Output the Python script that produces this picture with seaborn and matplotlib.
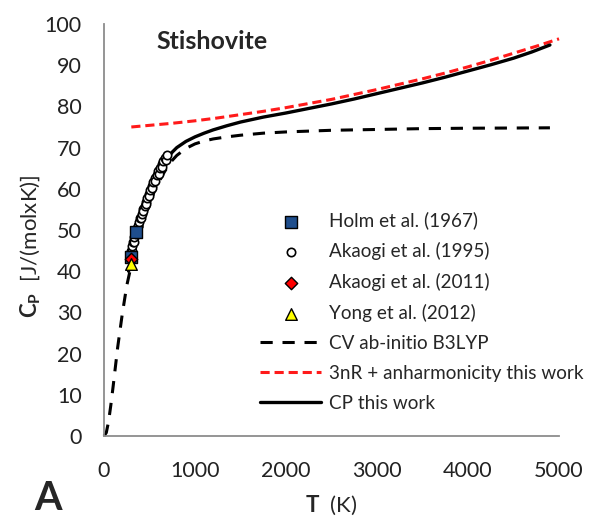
import numpy as np
import pandas as pd
import matplotlib
matplotlib.use("Agg")
import matplotlib.pyplot as plt
from matplotlib.ticker import MultipleLocator
import seaborn as sns

# ---- data -------------------------------------------------------------
# CV ab-initio B3LYP
cv_T = [0, 25, 50, 75, 100, 150, 200, 250, 300, 350, 400, 450, 500, 550, 600,
        650, 700, 750, 800, 900, 1000, 1100, 1200, 1350, 1500, 1750, 2000,
        2500, 3000, 3500, 4000, 4500, 4900]
cv_val = [0.0, 0.8, 3.5, 7.5, 12.0, 21.5, 29.5, 36.5, 41.5, 46.2, 50.0, 53.5,
          56.5, 59.2, 61.5, 63.6, 65.4, 66.9, 68.1, 69.8, 70.9, 71.6, 72.1,
          72.6, 73.0, 73.5, 73.8, 74.2, 74.4, 74.6, 74.7, 74.75, 74.8]

# 3nR + anharmonicity
anh_T = [300, 500, 750, 1000, 1250, 1500, 1750, 2000, 2250, 2500, 2750, 3000,
         3250, 3500, 3750, 4000, 4250, 4500, 4750, 5000]
anh_val = [75.0, 75.4, 75.9, 76.5, 77.2, 78.0, 78.8, 79.7, 80.7, 81.7, 82.9,
           84.1, 85.4, 86.7, 88.1, 89.6, 91.2, 92.9, 94.6, 96.4]

# CP this work
cp_T = [270, 300, 350, 400, 450, 500, 550, 600, 650, 700, 750, 800, 900, 1000,
        1100, 1200, 1350, 1500, 1750, 2000, 2250, 2500, 2750, 3000, 3250,
        3500, 3750, 4000, 4250, 4500, 4700, 4900]
cp_val = [40.0, 43.5, 48.3, 52.5, 56.0, 59.0, 61.6, 63.8, 65.8, 67.5, 68.9,
          70.0, 71.5, 72.6, 73.5, 74.3, 75.3, 76.2, 77.4, 78.4, 79.5, 80.6,
          81.8, 83.1, 84.4, 85.7, 87.1, 88.6, 90.1, 91.7, 93.2, 94.9]

# experimental points
holm_T = [298, 350]
holm_val = [43.5, 49.5]

akaogi95_T = [298, 305, 310, 322, 328, 335, 348, 352, 360, 373, 378, 386, 400,
              404, 415, 430, 432, 445, 460, 462, 476, 492, 494, 508, 525, 528,
              542, 560, 564, 578, 596, 600, 615, 634, 638, 653, 672, 676, 690]
akaogi95_val = [45.0, 44.8, 46.0, 47.0, 47.0, 48.2, 49.2, 49.0, 50.0, 51.0,
                50.9, 51.9, 53.0, 52.8, 54.0, 55.0, 54.6, 55.9, 56.8, 56.4,
                57.8, 58.7, 58.2, 59.6, 60.6, 60.1, 61.6, 62.5, 62.0, 63.3,
                64.2, 63.7, 65.0, 65.9, 65.4, 66.7, 67.5, 67.0, 68.3]

akaogi11_T = [298]
akaogi11_val = [43.0]

yong_T = [298]
yong_val = [41.8]

# ---- styling ----------------------------------------------------------
sns.set_style("white")
plt.rcParams["font.family"] = ["Lato", "DejaVu Sans"]
plt.rcParams["mathtext.fontset"] = "custom"
plt.rcParams["mathtext.rm"] = "Lato"
plt.rcParams["mathtext.bf"] = "Lato:bold"

fig = plt.figure(figsize=(5.93, 5.17), dpi=100)
ax = fig.add_axes([0.1754, 0.1567, 0.7673, 0.7969])

# ---- lines ------------------------------------------------------------
cv_df = pd.DataFrame({"T": cv_T, "C": cv_val})
anh_df = pd.DataFrame({"T": anh_T, "C": anh_val})
cp_df = pd.DataFrame({"T": cp_T, "C": cp_val})

sns.lineplot(data=cv_df, x="T", y="C", ax=ax, color="black", lw=2.2,
             label="CV ab-initio B3LYP", zorder=2, clip_on=False)
ax.lines[-1].set_dashes([4, 3.2])
sns.lineplot(data=anh_df, x="T", y="C", ax=ax, color="#ff1a1a", lw=2.2,
             label="3nR + anharmonicity this work", zorder=2, clip_on=False)
ax.lines[-1].set_dashes([3, 1.6])
sns.lineplot(data=cp_df, x="T", y="C", ax=ax, color="black", lw=2.4,
             label="CP this work", zorder=3)

# ---- markers ----------------------------------------------------------
sns.scatterplot(x=akaogi95_T, y=akaogi95_val, ax=ax, marker="o", s=36,
                facecolor="white", edgecolor="black", linewidth=1.2,
                label="Akaogi et al. (1995)", zorder=4)
sns.scatterplot(x=holm_T, y=holm_val, ax=ax, marker="s", s=64,
                color="#1f4e8c", edgecolor="black", linewidth=1.0,
                label="Holm et al. (1967)", zorder=5)
sns.scatterplot(x=akaogi11_T, y=akaogi11_val, ax=ax, marker="D", s=40,
                color="#ff0000", edgecolor="black", linewidth=1.0,
                label="Akaogi et al. (2011)", zorder=6)
sns.scatterplot(x=yong_T, y=yong_val, ax=ax, marker="^", s=70,
                color="#ffff00", edgecolor="black", linewidth=1.0,
                label="Yong et al. (2012)", zorder=7)

# ---- axes -------------------------------------------------------------
ax.set_xlim(0, 5000)
ax.set_ylim(0, 100)
ax.xaxis.set_major_locator(MultipleLocator(1000))
ax.xaxis.set_minor_locator(MultipleLocator(500))
ax.yaxis.set_major_locator(MultipleLocator(10))
ax.yaxis.set_minor_locator(MultipleLocator(2))
for s in ["top", "right"]:
    ax.spines[s].set_visible(False)
for s in ["left", "bottom"]:
    ax.spines[s].set_color("#8c8c8c")
    ax.spines[s].set_linewidth(1.3)
ax.tick_params(which="both", direction="in", color="#8c8c8c", width=1.2,
               length=5, labelsize=15.5, labelcolor="#222222")
ax.tick_params(axis="x", which="both", pad=18)
ax.tick_params(axis="y", which="both", pad=16)

ax.set_xlabel(r"$\mathbf{T}$  (K)", fontsize=16, labelpad=9)
ax.set_ylabel(r"$\mathbf{C_P}$  [J/(molxK)]", fontsize=16)
ax.yaxis.set_label_coords(-0.133, 0.46)

ax.text(0.115, 0.985, "Stishovite", transform=ax.transAxes, fontsize=18,
        fontweight="bold", va="top", ha="left")

handles, labels = ax.get_legend_handles_labels()
order = ["Holm et al. (1967)", "Akaogi et al. (1995)", "Akaogi et al. (2011)",
         "Yong et al. (2012)", "CV ab-initio B3LYP",
         "3nR + anharmonicity this work", "CP this work"]
hmap = dict(zip(labels, handles))
ax.legend([hmap[k] for k in order], order, loc="upper left",
          bbox_to_anchor=(0.327, 0.563), frameon=False, fontsize=13.6,
          handlelength=3.2, handletextpad=0.45, labelspacing=0.68,
          borderaxespad=0)

# panel letter in the lower-left corner
fig.text(0.058, 0.071, "A", fontsize=28.5, fontweight="bold", va="top",
         ha="left")

fig.savefig("out.png", dpi=100)
